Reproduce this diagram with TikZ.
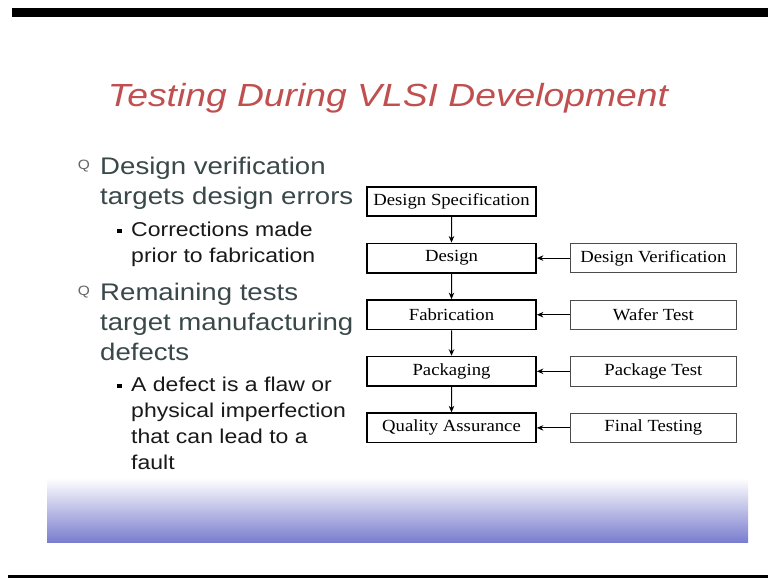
\documentclass[tikz,border=0pt]{standalone}
\usepackage{fontspec}
\setmainfont{Liberation Sans}
\newfontfamily\timesf{Liberation Serif}
\usetikzlibrary{positioning,arrows.meta}
\definecolor{titlered}{RGB}{192,80,80}
\definecolor{slate}{RGB}{58,72,74}
\definecolor{bandblue}{RGB}{122,126,206}

\begin{document}
\begin{tikzpicture}[%
  x=1pt,y=-1pt,
  node distance=25.5pt,
  wide/.style={xscale=1.15},
  boxwide/.style={xscale=1.1},
  stage/.style={boxwide,draw,line width=1.6pt,minimum width=153.6pt,minimum height=29.5pt,
    inner sep=0pt,font=\timesf\fontsize{17}{19}\selectfont},
  check/.style={boxwide,draw=black!70,line width=0.8pt,minimum width=151pt,minimum height=29.5pt,
    inner sep=0pt,font=\timesf\fontsize{17}{19}\selectfont},
  flow/.style={-{Stealth[length=6.5pt,width=5.5pt]},line width=1pt},
  qmark/.style={wide,text=black!60,inner sep=0pt,font=\fontsize{13.5}{14}\selectfont},
  sq/.style={fill=black,minimum size=4.5pt,inner sep=0pt},
  body/.style={wide,anchor=north west,inner sep=0pt,align=left,text=slate,
    font=\fontsize{24}{30}\selectfont},
  subbody/.style={wide,anchor=north west,inner sep=0pt,align=left,text=black!90,
    font=\fontsize{20}{26}\selectfont}]
\useasboundingbox (0,0) rectangle (768,578);
\fill[white] (0,0) rectangle (768,578);
% frame bars
\fill[black] (12,8) rectangle (768,17);
\fill[black] (8,575) rectangle (768,578);
\shade[top color=white,bottom color=bandblue] (47,478) rectangle (748,542);

\node[xscale=1.165,text=titlered,font=\itshape\fontsize{32}{36}\selectfont] (title) at (388,98)
  {Testing During VLSI Development};

% bullets
\node[qmark] (q1) at (84,166.5) {Q};
\node[body] (t1) at (100,157) {Design verification\\targets design errors};
\node[sq] (b1) at (119.5,231) {};
\node[subbody] (s1) at (131,222) {Corrections made\\prior to fabrication};
\node[qmark] (q2) at (84,292.5) {Q};
\node[body] (t2) at (100,283) {Remaining tests\\target manufacturing\\defects};
\node[sq] (b2) at (119.5,386) {};
\node[subbody] (s2) at (131,377) {A defect is a flaw or\\physical imperfection\\that can lead to a\\fault};

% flow
\node[stage] (spec) at (451.5,201.5) {Design Specification};
\node[stage,below=of spec] (design) {Design};
\node[stage,below=of design] (fab) {Fabrication};
\node[stage,below=of fab] (pack) {Packaging};
\node[stage,below=of pack] (qa) {Quality Assurance};
\node[check,right=33pt of design] (dver) {Design Verification};
\node[check,right=33pt of fab] (wafer) {Wafer Test};
\node[check,right=33pt of pack] (ptest) {Package Test};
\node[check,right=33pt of qa] (final) {Final Testing};

\draw[flow] (spec) -- (design);
\draw[flow] (design) -- (fab);
\draw[flow] (fab) -- (pack);
\draw[flow] (pack) -- (qa);
\draw[flow] (dver) -- (design);
\draw[flow] (wafer) -- (fab);
\draw[flow] (ptest) -- (pack);
\draw[flow] (final) -- (qa);
\end{tikzpicture}
\end{document}
